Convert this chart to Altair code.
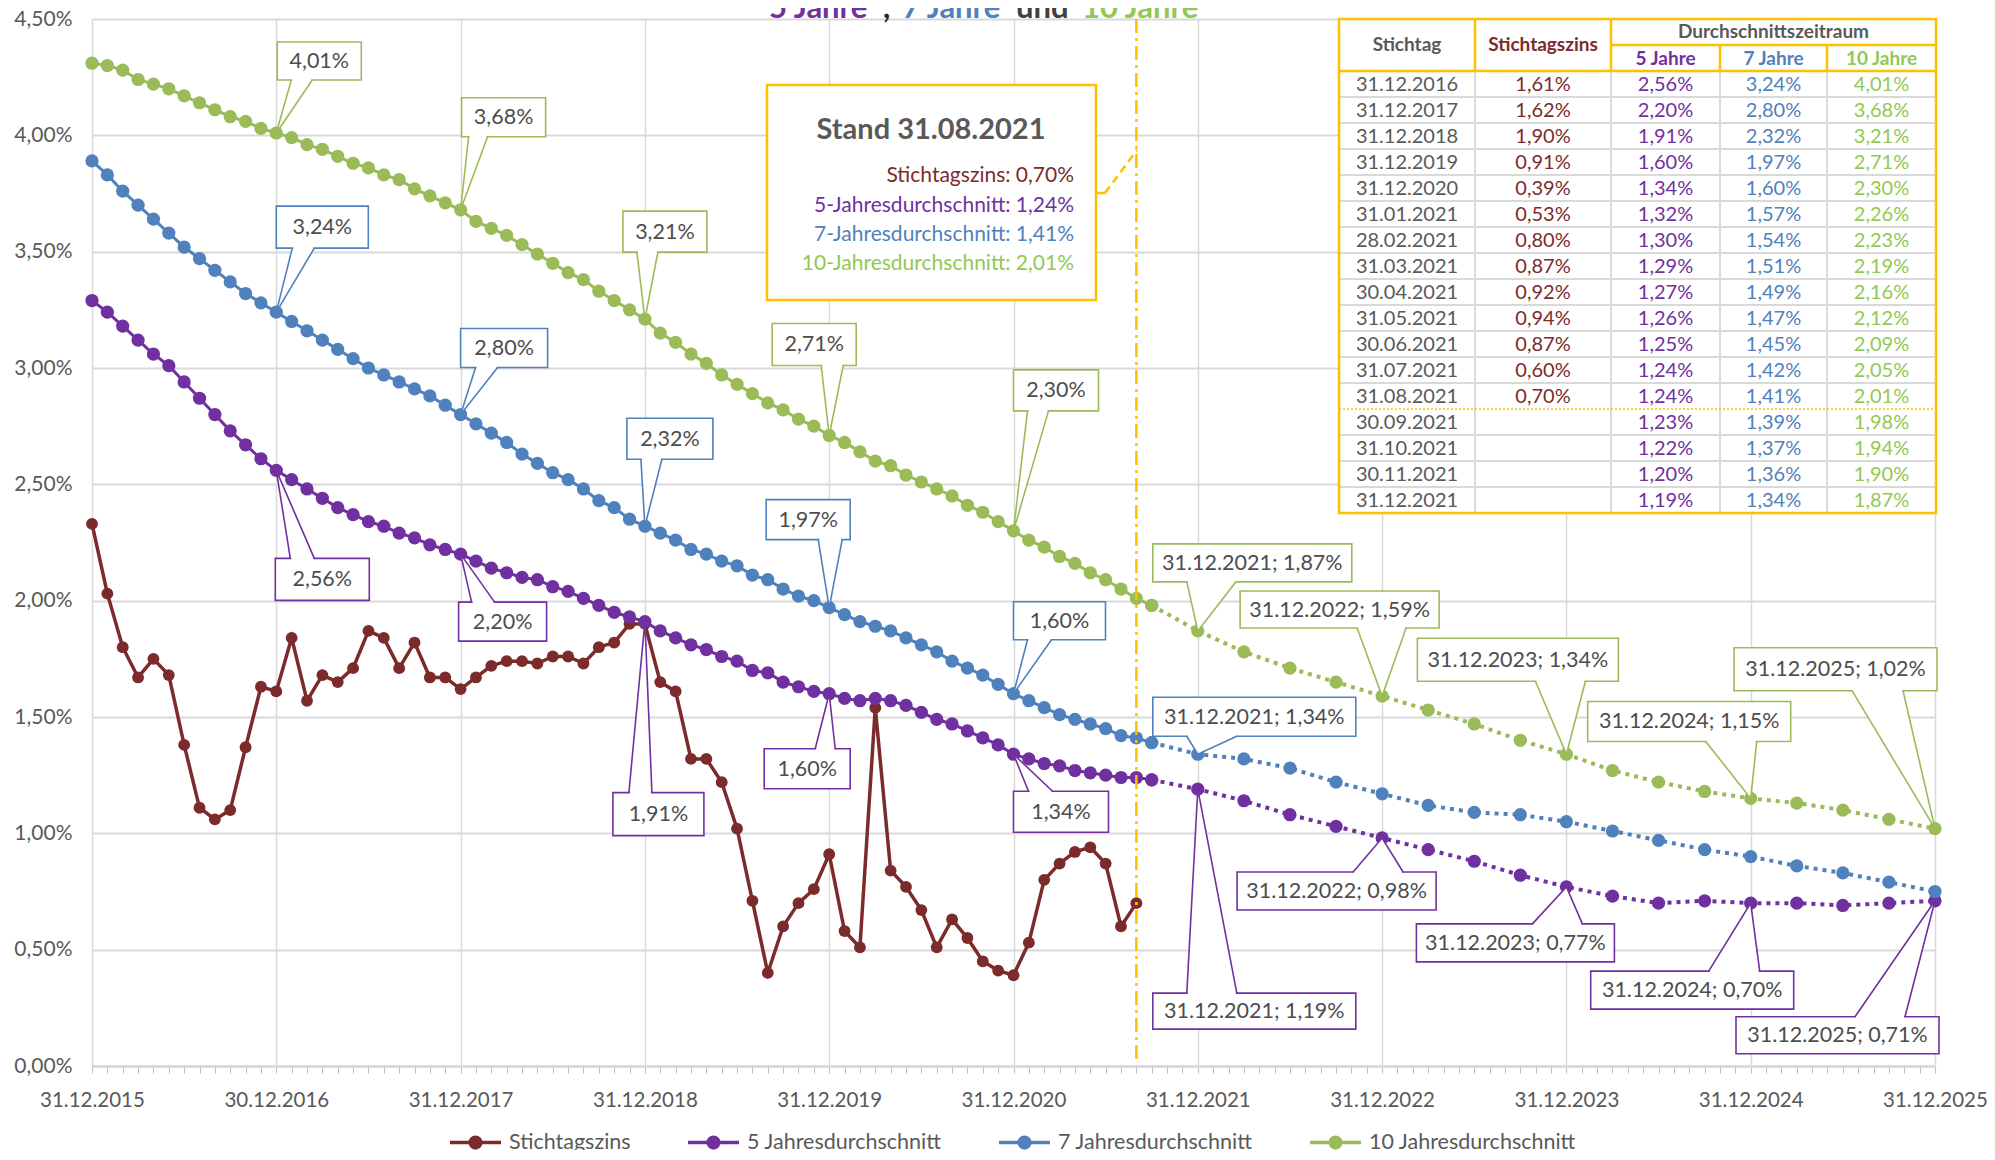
import altair as alt
import pandas as pd

FONT = "Lato"
TXT = "#595959"
LBL = "#4D4D4D"
GRID = "#D9D9D9"
YEL = "#FFC000"

# ---------------------------------------------------------------- data
series_names = ["Stichtagszins", "5 Jahresdurchschnitt", "7 Jahresdurchschnitt", "10 Jahresdurchschnitt"]
series_colors = ["#7B2B2B", "#7030A0", "#4F81BD", "#9BBB59"]
text_colors = ["#7B2B2B", "#7030A0", "#4F81BD", "#92C853"]

x_labels = ["31.12.2015", "30.12.2016", "31.12.2017", "31.12.2018", "31.12.2019", "31.12.2020",
            "31.12.2021", "31.12.2022", "31.12.2023", "31.12.2024", "31.12.2025"]

# monthly values, month 0 = 31.12.2015 ... month 68 = 31.08.2021
stichtagszins = [2.33,
    2.03, 1.80, 1.67, 1.75, 1.68, 1.38, 1.11, 1.06, 1.10, 1.37, 1.63, 1.61,
    1.84, 1.57, 1.68, 1.65, 1.71, 1.87, 1.84, 1.71, 1.82, 1.67, 1.67, 1.62,
    1.67, 1.72, 1.74, 1.74, 1.73, 1.76, 1.76, 1.73, 1.80, 1.82, 1.90, 1.90,
    1.65, 1.61, 1.32, 1.32, 1.22, 1.02, 0.71, 0.40, 0.60, 0.70, 0.76, 0.91,
    0.58, 0.51, 1.54, 0.84, 0.77, 0.67, 0.51, 0.63, 0.55, 0.45, 0.41, 0.39,
    0.53, 0.80, 0.87, 0.92, 0.94, 0.87, 0.60, 0.70]
# monthly averages up to month 69 = 30.09.2021
avg5 = [3.29,
    3.24, 3.18, 3.12, 3.06, 3.01, 2.94, 2.87, 2.80, 2.73, 2.67, 2.61, 2.56,
    2.52, 2.48, 2.44, 2.40, 2.37, 2.34, 2.32, 2.29, 2.27, 2.24, 2.22, 2.20,
    2.17, 2.14, 2.12, 2.10, 2.09, 2.06, 2.04, 2.01, 1.98, 1.95, 1.93, 1.91,
    1.87, 1.84, 1.81, 1.79, 1.76, 1.74, 1.70, 1.69, 1.65, 1.63, 1.61, 1.60,
    1.58, 1.57, 1.58, 1.57, 1.55, 1.52, 1.49, 1.47, 1.44, 1.41, 1.38, 1.34,
    1.32, 1.30, 1.29, 1.27, 1.26, 1.25, 1.24, 1.24, 1.23]
avg7 = [3.89,
    3.83, 3.76, 3.70, 3.64, 3.58, 3.52, 3.47, 3.42, 3.37, 3.32, 3.28, 3.24,
    3.20, 3.16, 3.12, 3.08, 3.04, 3.00, 2.97, 2.94, 2.91, 2.88, 2.84, 2.80,
    2.76, 2.72, 2.68, 2.63, 2.59, 2.55, 2.52, 2.48, 2.43, 2.40, 2.35, 2.32,
    2.29, 2.26, 2.22, 2.20, 2.17, 2.15, 2.11, 2.09, 2.05, 2.02, 2.00, 1.97,
    1.94, 1.91, 1.89, 1.87, 1.84, 1.81, 1.78, 1.74, 1.71, 1.68, 1.64, 1.60,
    1.57, 1.54, 1.51, 1.49, 1.47, 1.45, 1.42, 1.41, 1.39]
avg10 = [4.31,
    4.30, 4.28, 4.24, 4.22, 4.20, 4.17, 4.14, 4.11, 4.08, 4.06, 4.03, 4.01,
    3.99, 3.96, 3.94, 3.91, 3.88, 3.86, 3.83, 3.81, 3.77, 3.74, 3.71, 3.68,
    3.63, 3.60, 3.57, 3.53, 3.49, 3.45, 3.41, 3.38, 3.33, 3.29, 3.25, 3.21,
    3.15, 3.11, 3.06, 3.02, 2.97, 2.93, 2.89, 2.85, 2.82, 2.78, 2.75, 2.71,
    2.68, 2.64, 2.60, 2.58, 2.54, 2.51, 2.48, 2.45, 2.41, 2.38, 2.34, 2.30,
    2.26, 2.23, 2.19, 2.16, 2.12, 2.09, 2.05, 2.01, 1.98]

# projection (dotted), months after 31.12.2015
proj_months = [69, 72, 75, 78, 81, 84, 87, 90, 93, 96, 99, 102, 105, 108, 111, 114, 117, 120]
proj5 = [1.23, 1.19, 1.14, 1.08, 1.03, 0.98, 0.93, 0.88, 0.82, 0.77, 0.73, 0.70, 0.71, 0.70, 0.70, 0.69, 0.70, 0.71]
proj7 = [1.39, 1.34, 1.32, 1.28, 1.22, 1.17, 1.12, 1.09, 1.08, 1.05, 1.01, 0.97, 0.93, 0.90, 0.86, 0.83, 0.79, 0.75]
proj10 = [1.98, 1.87, 1.78, 1.71, 1.65, 1.59, 1.53, 1.47, 1.40, 1.34, 1.27, 1.22, 1.18, 1.15, 1.13, 1.10, 1.06, 1.02]

stichtag_month = 68  # 31.08.2021

table_dates = ["31.12.2016", "31.12.2017", "31.12.2018", "31.12.2019", "31.12.2020", "31.01.2021",
               "28.02.2021", "31.03.2021", "30.04.2021", "31.05.2021", "30.06.2021", "31.07.2021",
               "31.08.2021", "30.09.2021", "31.10.2021", "30.11.2021", "31.12.2021"]
table_stz = [1.61, 1.62, 1.90, 0.91, 0.39, 0.53, 0.80, 0.87, 0.92, 0.94, 0.87, 0.60, 0.70, None, None, None, None]
table_5 = [2.56, 2.20, 1.91, 1.60, 1.34, 1.32, 1.30, 1.29, 1.27, 1.26, 1.25, 1.24, 1.24, 1.23, 1.22, 1.20, 1.19]
table_7 = [3.24, 2.80, 2.32, 1.97, 1.60, 1.57, 1.54, 1.51, 1.49, 1.47, 1.45, 1.42, 1.41, 1.39, 1.37, 1.36, 1.34]
table_10 = [4.01, 3.68, 3.21, 2.71, 2.30, 2.26, 2.23, 2.19, 2.16, 2.12, 2.09, 2.05, 2.01, 1.98, 1.94, 1.90, 1.87]

# data-labelled points: (series index, month)
callouts = [(3, 12), (3, 24), (3, 36), (3, 48), (3, 60),
            (2, 12), (2, 24), (2, 36), (2, 48), (2, 60),
            (1, 12), (1, 24), (1, 36), (1, 48), (1, 60),
            (3, 72), (3, 84), (3, 96), (3, 108), (3, 120),
            (2, 72),
            (1, 72), (1, 84), (1, 96), (1, 108), (1, 120)]

# ---------------------------------------------------------------- layout (pixels)
PLOT_W, PLOT_H = 1843, 1047
X_MAX, Y_MAX = 120, 4.5
PX0, PY0 = 92, 19  # page position of plot's top-left corner

def m_at(px):
    return (px - PX0) * X_MAX / PLOT_W

def v_at(py):
    return (PY0 + PLOT_H - py) * Y_MAX / PLOT_H

def px_of(m):
    return PX0 + m * PLOT_W / X_MAX

def py_of(v):
    return PY0 + PLOT_H - v * PLOT_H / Y_MAX

# callout boxes relative to their point: dx, dy (box top-left), w, h, pointer base b1,b2 from box left
CALLOUT_BOX = [
    (1, -91, 84, 38, 14, 35), (1, -112, 84, 39, 7, 26), (-22, -108, 84, 41, 14, 35),
    (-57, -112, 84, 42, 49, 71), (0, -161, 85, 41, 14, 35),
    (0, -106, 92, 42, 16, 38), (0, -86, 87, 39, 15, 37), (-18, -108, 86, 41, 14, 35),
    (-63, -108, 84, 40, 52, 76), (0, -92, 92, 38, 14, 38),
    (-1, 88, 94, 42, 15, 39), (-2, 48, 88, 39, 13, 36), (-32, 171, 91, 43, 16, 39),
    (-65, 55, 86, 40, 51, 71), (0, 37, 95, 41, 15, 39),
    (-45, -87, 199, 38, 34, 83), (-142, -105, 199, 37, 117, 166), (-149, -116, 201, 43, 118, 168),
    (-163, -97, 203, 40, 118, 169), (-201, -181, 203, 43, 118, 169),
    (-45, -57, 203, 39, 34, 84),
    (-45, 204, 203, 36, 34, 84), (-145, 34, 199, 38, 116, 166), (-150, 37, 198, 38, 116, 166),
    (-160, 68, 203, 38, 118, 169), (-199, 116, 203, 37, 119, 169),
]

monthly = [stichtagszins, avg5, avg7, avg10]
projection = [None, proj5, proj7, proj10]


def pct(v):
    return f"{v:.2f}".replace(".", ",") + "%"


def value_at(s, m):
    if m < len(monthly[s]):
        return monthly[s][m]
    return projection[s][proj_months.index(m)]


XS = alt.Scale(domain=[0, X_MAX], nice=False, zero=False)
YS = alt.Scale(domain=[0, Y_MAX], nice=False, zero=False)
CS = alt.Scale(domain=series_names, range=series_colors)

label_arr = "[" + ",".join(f"'{l}'" for l in x_labels) + "]"
XAXIS = alt.Axis(
    values=list(range(0, 121)), title=None,
    labelExpr=f"datum.value % 12 === 0 ? {label_arr}[datum.value / 12] : ''",
    grid=True, gridColor=GRID, gridWidth=1.5,
    gridOpacity={"condition": {"test": "datum.value % 12 === 0", "value": 1}, "value": 0},
    domainColor=GRID, domainWidth=2.5, tickColor="#BFBFBF", tickSize=7, tickWidth=1,
    labelFont=FONT, labelFontSize=20.5, labelColor=TXT, labelPadding=17,
    labelOverlap=False, labelFlush=False, labelBound=False,
)
YAXIS = alt.Axis(
    values=[i * 0.5 for i in range(10)], title=None,
    labelExpr="replace(format(datum.value, '.2f'), '.', ',') + '%'",
    grid=True, gridColor=GRID, gridWidth=2, ticks=False, domain=False,
    labelFont=FONT, labelFontSize=21, labelColor=TXT, labelPadding=20,
)


def X(f):
    return alt.X(f, type="quantitative", scale=XS, axis=XAXIS)


def Y(f):
    return alt.Y(f, type="quantitative", scale=YS, axis=YAXIS)


# legend symbol: line with a filled dot (dot drawn as concentric rings)
def ring(r):
    return f"M{r},0A{r},{r},0,1,1,{-r},0A{r},{r},0,1,1,{r},0Z"


LEG_PATH = "M-1,0H1" + "".join(ring(r) for r in (0.05, 0.13, 0.21))
LEGEND = alt.Legend(
    title=None, orient="none", legendX=356, legendY=1096, direction="horizontal", columns=4,
    symbolType=LEG_PATH, symbolSize=2601, symbolStrokeWidth=3.5,
    labelFont=FONT, labelFontSize=21.5, labelColor=TXT, labelOffset=6, columnPadding=50,
    padding=0, labelLimit=400,
)

layers = []

# ---------------------------------------------------------------- series
for s, name in enumerate(series_names):
    df = pd.DataFrame({"m": list(range(len(monthly[s]))), "v": monthly[s], "series": name})
    if s == 0:
        line = alt.Chart(df).mark_line(strokeWidth=3.5).encode(
            x=X("m"), y=Y("v"), color=alt.Color("series:N", scale=CS, legend=LEGEND))
        size = 140
    else:
        line = alt.Chart(df).mark_line(strokeWidth=3).encode(
            x=X("m"), y=Y("v"), stroke=alt.Stroke("series:N", scale=CS, legend=None))
        size = 175
    pts = alt.Chart(df).mark_circle(size=size, opacity=1).encode(
        x=X("m"), y=Y("v"), fill=alt.Fill("series:N", scale=CS, legend=None))
    layers += [line, pts]

for s in (1, 2, 3):
    df = pd.DataFrame({"m": proj_months, "v": projection[s], "series": series_names[s]})
    line = alt.Chart(df).mark_line(strokeWidth=4, strokeDash=[4, 5]).encode(
        x=X("m"), y=Y("v"), stroke=alt.Stroke("series:N", scale=CS, legend=None))
    pts = alt.Chart(df).mark_circle(size=175, opacity=1).encode(
        x=X("m"), y=Y("v"), fill=alt.Fill("series:N", scale=CS, legend=None))
    layers += [line, pts]

# vertical marker of the reference date
vdf = pd.DataFrame({"m": [stichtag_month], "v": [0.03], "v2": [Y_MAX]})
layers.append(alt.Chart(vdf).mark_rule(color=YEL, strokeWidth=2.5, strokeDash=[14, 5, 3, 5]).encode(
    x=X("m"), y=Y("v"), y2="v2"))

# ---------------------------------------------------------------- callouts
box_rows, tri_rows, side_rows, cover_rows, txt_rows = [], [], [], [], []
for i, ((s, m), (dx, dy, w, h, b1, b2)) in enumerate(zip(callouts, CALLOUT_BOX)):
    v = value_at(s, m)
    ax, ay = px_of(m), py_of(v)
    left, top = ax + dx, ay + dy
    edge = top + h if dy < 0 else top
    col = series_colors[s]
    label = pct(v) if m <= stichtag_month else f"{x_labels[m // 12]}; {pct(v)}"
    box_rows.append({"m": m_at(left), "m2": m_at(left + w), "v": v_at(top), "v2": v_at(top + h), "c": col})
    tri_rows.append({"id": i, "v": v_at(edge), "m": m_at(left + b1), "m2": m_at(left + b2)})
    tri_rows.append({"id": i, "v": v, "m": m, "m2": m})
    for o, (px, py) in enumerate([(left + b1, edge), (ax, ay), (left + b2, edge)]):
        side_rows.append({"id": i, "o": o, "m": m_at(px), "v": v_at(py), "c": col})
    cover_rows.append({"m": m_at(left + b1 + 1), "m2": m_at(left + b2 - 1), "v": v_at(edge)})
    txt_rows.append({"m": m_at(left + w / 2), "v": v_at(top + h / 2 + 1), "t": label})

layers.append(alt.Chart(pd.DataFrame(tri_rows)).mark_area(orient="horizontal", color="white", opacity=1).encode(
    y=Y("v"), x=X("m"), x2="m2", detail="id:N"))
layers.append(alt.Chart(pd.DataFrame(box_rows)).mark_rect(fill="white", strokeWidth=1.6).encode(
    x=X("m"), x2="m2", y=Y("v"), y2="v2", stroke=alt.Stroke("c:N", scale=None)))
layers.append(alt.Chart(pd.DataFrame(cover_rows)).mark_rule(color="white", strokeWidth=3).encode(
    x=X("m"), x2="m2", y=Y("v")))
layers.append(alt.Chart(pd.DataFrame(side_rows)).mark_line(strokeWidth=1.6).encode(
    x=X("m"), y=Y("v"), order="o:Q", detail="id:N", stroke=alt.Stroke("c:N", scale=None)))
layers.append(alt.Chart(pd.DataFrame(txt_rows)).mark_text(
    font=FONT, fontSize=21.5, color=LBL, align="center", baseline="middle").encode(
    x=X("m"), y=Y("v"), text="t:N"))

# ---------------------------------------------------------------- "Stand" box
BOX = (767, 85, 1096, 300)
stand_box = pd.DataFrame({"m": [m_at(BOX[0])], "m2": [m_at(BOX[2])], "v": [v_at(BOX[1])], "v2": [v_at(BOX[3])]})
layers.append(alt.Chart(stand_box).mark_rect(fill="white", stroke=YEL, strokeWidth=2.5).encode(
    x=X("m"), x2="m2", y=Y("v"), y2="v2"))
conn = pd.DataFrame({"m": [m_at(1097), m_at(1105)], "v": [v_at(193), v_at(193)],
                     "m2": [m_at(1105), m_at(1137)], "v2": [v_at(193), v_at(150)]})
layers.append(alt.Chart(conn).mark_rule(color=YEL, strokeWidth=2.5, strokeDash=[8, 5]).encode(
    x=X("m"), x2="m2", y=Y("v"), y2="v2"))
stand_title = pd.DataFrame({"m": [m_at(931)], "v": [v_at(130)],
                            "t": [f"Stand {table_dates[table_dates.index('31.08.2021')]}"]})
layers.append(alt.Chart(stand_title).mark_text(
    font=FONT, fontSize=29, fontWeight="bold", color=TXT, align="center", baseline="middle").encode(
    x=X("m"), y=Y("v"), text="t:N"))
stand_vals = [monthly[s][stichtag_month] for s in range(4)]
stand_lines = pd.DataFrame({
    "m": [m_at(1074)] * 4,
    "v": [v_at(y) for y in (176, 206, 235, 264)],
    "t": [f"Stichtagszins: {pct(stand_vals[0])}", f"5-Jahresdurchschnitt: {pct(stand_vals[1])}",
          f"7-Jahresdurchschnitt: {pct(stand_vals[2])}", f"10-Jahresdurchschnitt: {pct(stand_vals[3])}"],
    "c": text_colors,
})
layers.append(alt.Chart(stand_lines).mark_text(
    font=FONT, fontSize=21, align="right", baseline="middle").encode(
    x=X("m"), y=Y("v"), text="t:N", color=alt.Color("c:N", scale=None)))

# ---------------------------------------------------------------- table
TX = [1339, 1475, 1611, 1720, 1827, 1936]
TY0, TYH, TYD, ROW = 19, 45, 71, 26
TYB = TYD + ROW * len(table_dates)
tbl_bg = pd.DataFrame({"m": [m_at(TX[0])], "m2": [m_at(TX[-1])], "v": [v_at(TY0)], "v2": [v_at(TYB)]})
layers.append(alt.Chart(tbl_bg).mark_rect(fill="white").encode(x=X("m"), x2="m2", y=Y("v"), y2="v2"))

gray_r, yel_r, dot_r = [], [], []
cut = table_dates.index("31.08.2021") + 1
for k in range(1, len(table_dates)):
    y = TYD + ROW * k
    (dot_r if k == cut else gray_r).append((TX[0], y, TX[-1], y))
for x in TX[1:-1]:
    gray_r.append((x, TYD, x, TYB))
yel_r += [(TX[1], TY0, TX[1], TYD), (TX[2], TY0, TX[2], TYD), (TX[3], TYH, TX[3], TYD),
          (TX[4], TYH, TX[4], TYD), (TX[2], TYH, TX[-1], TYH), (TX[0], TYD, TX[-1], TYD)]


def rule_df(rows):
    return pd.DataFrame({"m": [m_at(r[0]) for r in rows], "v": [v_at(r[1]) for r in rows],
                         "m2": [m_at(r[2]) for r in rows], "v2": [v_at(r[3]) for r in rows]})


layers.append(alt.Chart(rule_df(gray_r)).mark_rule(color=GRID, strokeWidth=2).encode(
    x=X("m"), x2="m2", y=Y("v"), y2="v2"))
layers.append(alt.Chart(rule_df(dot_r)).mark_rule(color=YEL, strokeWidth=1.5, strokeDash=[2, 2]).encode(
    x=X("m"), x2="m2", y=Y("v"), y2="v2"))
layers.append(alt.Chart(rule_df(yel_r)).mark_rule(color=YEL, strokeWidth=2.5).encode(
    x=X("m"), x2="m2", y=Y("v"), y2="v2"))
layers.append(alt.Chart(tbl_bg).mark_rect(fill=None, stroke=YEL, strokeWidth=2.5).encode(
    x=X("m"), x2="m2", y=Y("v"), y2="v2"))

cx = [(TX[i] + TX[i + 1]) / 2 for i in range(5)]
head = pd.DataFrame({
    "m": [m_at(cx[0]), m_at(cx[1]), m_at(cx[3]), m_at(cx[2]), m_at(cx[3]), m_at(cx[4])],
    "v": [v_at(45), v_at(45), v_at(32), v_at(58.5), v_at(58.5), v_at(58.5)],
    "t": ["Stichtag", "Stichtagszins", "Durchschnittszeitraum", "5 Jahre", "7 Jahre", "10 Jahre"],
    "c": [TXT, text_colors[0], TXT, text_colors[1], text_colors[2], text_colors[3]],
})
layers.append(alt.Chart(head).mark_text(
    font=FONT, fontSize=19, fontWeight="bold", align="center", baseline="middle").encode(
    x=X("m"), y=Y("v"), text="t:N", color=alt.Color("c:N", scale=None)))

cells = []
for r, d in enumerate(table_dates):
    yc = v_at(TYD + ROW * r + ROW / 2 + 1)
    vals = [d, table_stz[r], table_5[r], table_7[r], table_10[r]]
    cols = [TXT] + text_colors
    for c in range(5):
        val = vals[c]
        if val is None:
            continue
        cells.append({"m": m_at(cx[c]), "v": yc, "t": val if c == 0 else pct(val), "c": cols[c]})
layers.append(alt.Chart(pd.DataFrame(cells)).mark_text(
    font=FONT, fontSize=20, align="center", baseline="middle").encode(
    x=X("m"), y=Y("v"), text="t:N", color=alt.Color("c:N", scale=None)))

# ---------------------------------------------------------------- partially visible title
title_parts = ["5 Jahre", ",", "7 Jahre", "und", "10 Jahre"]
title_colors = [series_colors[1], "#262626", series_colors[2], "#404040", text_colors[3]]
title_left = [769, 883, 902, 1016, 1082]
tdf = pd.DataFrame({"m": [m_at(x) for x in title_left], "v": [v_at(18)] * 5, "t": title_parts, "c": title_colors})
layers.append(alt.Chart(tdf).mark_text(
    font=FONT, fontSize=31, fontWeight="bold", align="left", baseline="alphabetic").encode(
    x=X("m"), y=Y("v"), text="t:N", color=alt.Color("c:N", scale=None)))

chart = alt.layer(*layers).properties(
    width=PLOT_W, height=PLOT_H,
    autosize=alt.AutoSizeParams(type="none"),
    padding={"left": PX0 - 8, "top": PY0 - 8, "right": 1979 - (PX0 - 8) - PLOT_W, "bottom": 84},
).configure_view(stroke=None).configure(background="white")

chart.save("out.html", embed_options={"renderer": "svg", "actions": False})
